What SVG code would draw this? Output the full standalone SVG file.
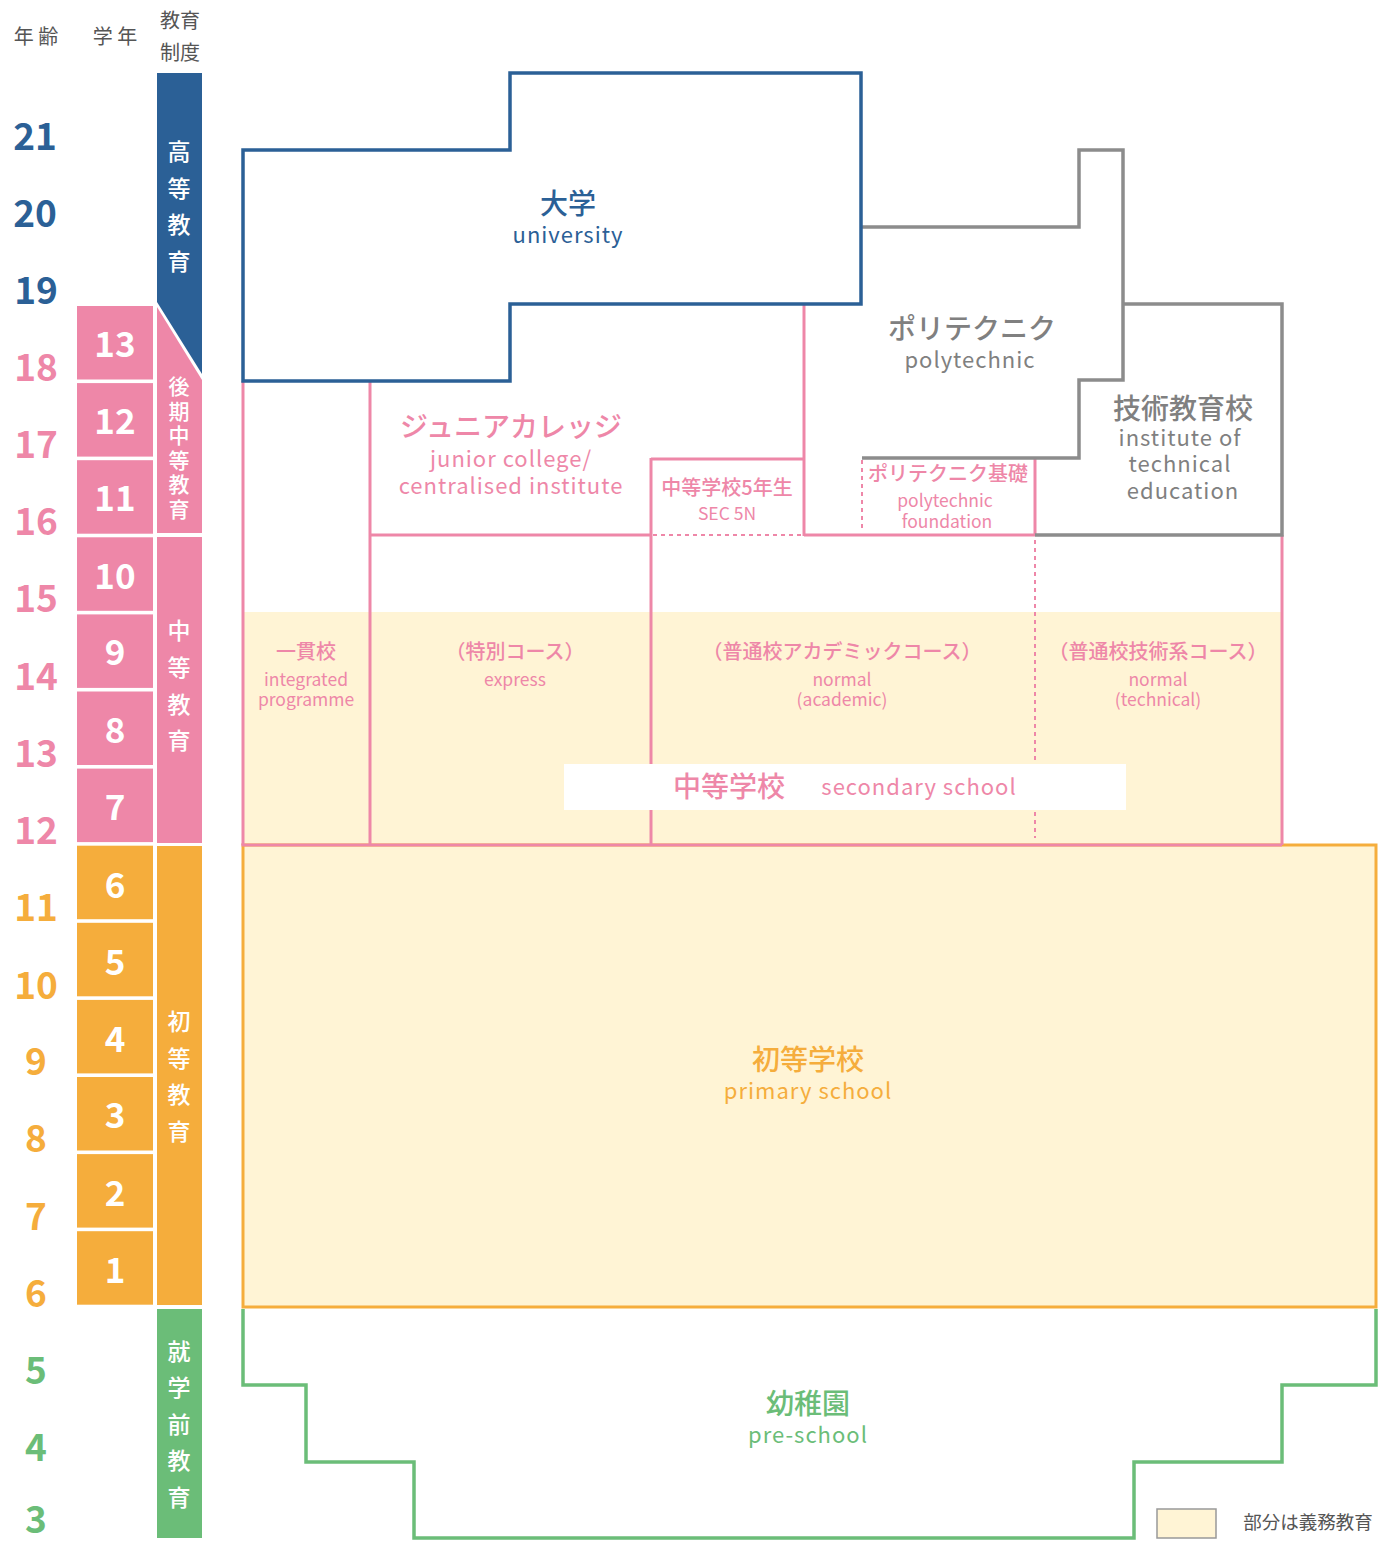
<svg xmlns="http://www.w3.org/2000/svg" width="1391" height="1541" viewBox="0 0 1391 1541">
<style>
text{font-family:"Noto Sans CJK JP","Noto Sans",sans-serif;text-anchor:middle}
.hdr{font-size:20px;fill:#555}
.age{font-family:Lato,"Noto Sans",sans-serif;font-weight:700;font-size:37px}
.grd{font-family:Lato,"Noto Sans",sans-serif;font-weight:700;font-size:35px;fill:#fff}
.vt{font-size:23px;fill:#fff;font-weight:500}
.bl{fill:#2b6096}.pk{fill:#ee87a8}.or{fill:#f5ad3c}.gr{fill:#6bbd78}.gy{fill:#808080}
.line-b{fill:none;stroke:#2b6096;stroke-width:3.5}
.line-p{fill:none;stroke:#ee87a8;stroke-width:3}
.line-pd{fill:none;stroke:#ee87a8;stroke-width:2;stroke-dasharray:4 4}
.line-g{fill:none;stroke:#8c8c8c;stroke-width:3.5}
.jp1{font-size:28px;font-weight:500}
.en1{font-size:22px;letter-spacing:1px}
.jp2{font-size:20px;font-weight:500}
.en2{font-size:17.5px}
</style>

<!-- header -->
<g id="header">
<text class="hdr" x="36" y="44">年 齢</text>
<text class="hdr" x="115" y="44">学 年</text>
<text class="hdr" x="180" y="28">教育</text>
<text class="hdr" x="180" y="60">制度</text>
</g>

<!-- age column -->
<g id="ages" class="age">
<text class="bl" x="35" y="150">21</text>
<text class="bl" x="35" y="227">20</text>
<text class="bl" x="36" y="304">19</text>
<text class="pk" x="36" y="381">18</text>
<text class="pk" x="36" y="458">17</text>
<text class="pk" x="36" y="535">16</text>
<text class="pk" x="36" y="612">15</text>
<text class="pk" x="36" y="690">14</text>
<text class="pk" x="36" y="767">13</text>
<text class="pk" x="36" y="844">12</text>
<text class="or" x="36" y="921">11</text>
<text class="or" x="36" y="999">10</text>
<text class="or" x="36" y="1075">9</text>
<text class="or" x="36" y="1152">8</text>
<text class="or" x="36" y="1230">7</text>
<text class="or" x="36" y="1307">6</text>
<text class="gr" x="36" y="1384">5</text>
<text class="gr" x="36" y="1461">4</text>
<text class="gr" x="36" y="1533">3</text>
</g>

<!-- grade column -->
<g id="grades">
<rect x="77" y="306" width="76" height="73.5" fill="#ee87a8"/>
<rect x="77" y="383.1" width="76" height="73.5" fill="#ee87a8"/>
<rect x="77" y="460.2" width="76" height="73.5" fill="#ee87a8"/>
<rect x="77" y="537.3" width="76" height="73.5" fill="#ee87a8"/>
<rect x="77" y="614.4" width="76" height="73.5" fill="#ee87a8"/>
<rect x="77" y="691.5" width="76" height="73.5" fill="#ee87a8"/>
<rect x="77" y="768.6" width="76" height="73.5" fill="#ee87a8"/>
<rect x="77" y="845.7" width="76" height="73.5" fill="#f5ad3c"/>
<rect x="77" y="922.8" width="76" height="73.5" fill="#f5ad3c"/>
<rect x="77" y="999.9" width="76" height="73.5" fill="#f5ad3c"/>
<rect x="77" y="1077" width="76" height="73.5" fill="#f5ad3c"/>
<rect x="77" y="1154.1" width="76" height="73.5" fill="#f5ad3c"/>
<rect x="77" y="1231.2" width="76" height="73.5" fill="#f5ad3c"/>
<g class="grd">
<text x="115" y="357">13</text>
<text x="115" y="434">12</text>
<text x="115" y="511">11</text>
<text x="115" y="589">10</text>
<text x="115" y="665">9</text>
<text x="115" y="743">8</text>
<text x="115" y="820">7</text>
<text x="115" y="898">6</text>
<text x="115" y="975">5</text>
<text x="115" y="1052">4</text>
<text x="115" y="1128">3</text>
<text x="115" y="1206">2</text>
<text x="115" y="1283">1</text>
</g>
</g>

<!-- education system column -->
<g id="system-higher">
<polygon points="157,73 202,73 202,374 157,302" fill="#2b6096"/>
<text class="vt" x="179"><tspan x="179" y="160">高</tspan><tspan x="179" y="197">等</tspan><tspan x="179" y="233">教</tspan><tspan x="179" y="270">育</tspan></text>
</g>
<g id="system-post-secondary">
<polygon points="157,307 202,380 202,533 157,533" fill="#ee87a8"/>
<text class="vt" x="179" style="font-size:21px"><tspan x="179" y="394">後</tspan><tspan x="179" y="418.5">期</tspan><tspan x="179" y="443">中</tspan><tspan x="179" y="467.5">等</tspan><tspan x="179" y="492">教</tspan><tspan x="179" y="516.5">育</tspan></text>
</g>
<g id="system-secondary">
<rect x="157" y="537" width="45" height="306" fill="#ee87a8"/>
<text class="vt" x="179"><tspan x="179" y="639">中</tspan><tspan x="179" y="676">等</tspan><tspan x="179" y="713">教</tspan><tspan x="179" y="749">育</tspan></text>
</g>
<g id="system-primary">
<rect x="157" y="846" width="45" height="459" fill="#f5ad3c"/>
<text class="vt" x="179"><tspan x="179" y="1030">初</tspan><tspan x="179" y="1067">等</tspan><tspan x="179" y="1103">教</tspan><tspan x="179" y="1140">育</tspan></text>
</g>
<g id="system-preschool">
<rect x="157" y="1309" width="45" height="229" fill="#6bbd78"/>
<text class="vt" x="179"><tspan x="179" y="1360">就</tspan><tspan x="179" y="1396">学</tspan><tspan x="179" y="1433">前</tspan><tspan x="179" y="1469">教</tspan><tspan x="179" y="1506">育</tspan></text>
</g>

<!-- compulsory cream background -->
<rect x="243" y="612" width="1039" height="233" fill="#fff4d5"/>

<!-- primary school -->
<g id="primary-school">
<rect x="243" y="845" width="1133" height="462" fill="#fff4d5" stroke="#f5ad3c" stroke-width="3"/>
<text class="jp1 or" x="808" y="1070">初等学校</text>
<text class="en1 or" x="808" y="1099">primary school</text>
</g>

<!-- preschool -->
<g id="pre-school">
<path d="M243,1309 V1385 H306 V1462 H414 V1538 H1134 V1462 H1282 V1385 H1376 V1309" class="line-g" style="stroke:#6bbd78"/>
<text class="jp1 gr" x="808" y="1414">幼稚園</text>
<text class="en1 gr" x="808" y="1443">pre-school</text>
</g>

<!-- connectors / boundary lines -->
<g id="connectors">
<line class="line-p" x1="243" y1="381" x2="243" y2="845"/>
<line class="line-p" x1="370" y1="381" x2="370" y2="845"/>
<line class="line-p" x1="651" y1="458" x2="651" y2="845"/>
<line class="line-p" x1="804" y1="304" x2="804" y2="536"/>
<line class="line-p" x1="1282" y1="535" x2="1282" y2="845"/>
<line class="line-p" x1="651" y1="459" x2="804" y2="459"/>
<line class="line-p" x1="370" y1="535" x2="651" y2="535"/>
<line class="line-pd" x1="653" y1="535" x2="802" y2="535"/>
<line class="line-p" x1="804" y1="535" x2="1035" y2="535"/>
<line class="line-p" x1="1035" y1="458" x2="1035" y2="536"/>
<line class="line-pd" x1="862" y1="460" x2="862" y2="530"/>
<line class="line-pd" x1="1035" y1="540" x2="1035" y2="838"/>
<line class="line-p" x1="241.5" y1="845" x2="1282" y2="845"/>
<path class="line-g" d="M861,227 H1079 V150 H1123 V380 H1079 V458 H862"/>
<path class="line-g" d="M1123,304 H1282 V535 H1035"/>
</g>

<!-- university -->
<g id="university">
<polygon class="line-b" points="243,150 510,150 510,73 861,73 861,304 510,304 510,381 243,381"/>
<text class="jp1 bl" x="568" y="214">大学</text>
<text class="en1 bl" x="568" y="243">university</text>
</g>

<!-- polytechnic -->
<g id="polytechnic">
<text class="jp1 gy" x="972" y="339">ポリテクニク</text>
<text class="en1 gy" x="970" y="368">polytechnic</text>
</g>

<!-- technical education -->
<g id="technical">
<text class="jp1 gy" x="1183" y="419">技術教育校</text>
<text class="en1 gy" x="1180" y="446">institute of</text>
<text class="en1 gy" x="1180" y="472">technical</text>
<text class="en1 gy" x="1183" y="499">education</text>
</g>

<!-- junior college -->
<g id="junior-college">
<text class="jp1 pk" x="511" y="437">ジュニアカレッジ</text>
<text class="en1 pk" x="511" y="467">junior college/</text>
<text class="en1 pk" x="511" y="494">centralised institute</text>
</g>

<!-- SEC 5N -->
<g id="sec5n">
<text class="jp2 pk" x="727" y="495">中等学校5年生</text>
<text class="en2 pk" x="727" y="520">SEC 5N</text>
</g>

<!-- polytechnic foundation -->
<g id="poly-foundation">
<text class="jp2 pk" x="948" y="481">ポリテクニク基礎</text>
<text class="en2 pk" x="945" y="507">polytechnic</text>
<text class="en2 pk" x="947" y="528">foundation</text>
</g>

<!-- secondary tracks -->
<g id="integrated">
<text class="jp2 pk" x="306" y="659">一貫校</text>
<text class="en2 pk" x="306" y="686">integrated</text>
<text class="en2 pk" x="306" y="706">programme</text>
</g>
<g id="express">
<text class="jp2 pk" x="515" y="659">（特別コース）</text>
<text class="en2 pk" x="515" y="686">express</text>
</g>
<g id="normal-academic">
<text class="jp2 pk" x="842" y="659">（普通校アカデミックコース）</text>
<text class="en2 pk" x="842" y="686">normal</text>
<text class="en2 pk" x="842" y="706">(academic)</text>
</g>
<g id="normal-technical">
<text class="jp2 pk" x="1158" y="659">（普通校技術系コース）</text>
<text class="en2 pk" x="1158" y="686">normal</text>
<text class="en2 pk" x="1158" y="706">(technical)</text>
</g>

<!-- secondary school label -->
<g id="secondary-school">
<rect x="564" y="764" width="562" height="46" fill="#fff"/>
<text class="jp1 pk" x="729" y="797">中等学校</text>
<text class="en1 pk" x="919" y="795">secondary school</text>
</g>

<!-- legend -->
<g id="legend">
<rect x="1157" y="1509" width="59" height="29" fill="#fff4d5" stroke="#999" stroke-width="1.5"/>
<text x="1308" y="1529" style="font-size:18.5px;fill:#555">部分は義務教育</text>
</g>
</svg>
